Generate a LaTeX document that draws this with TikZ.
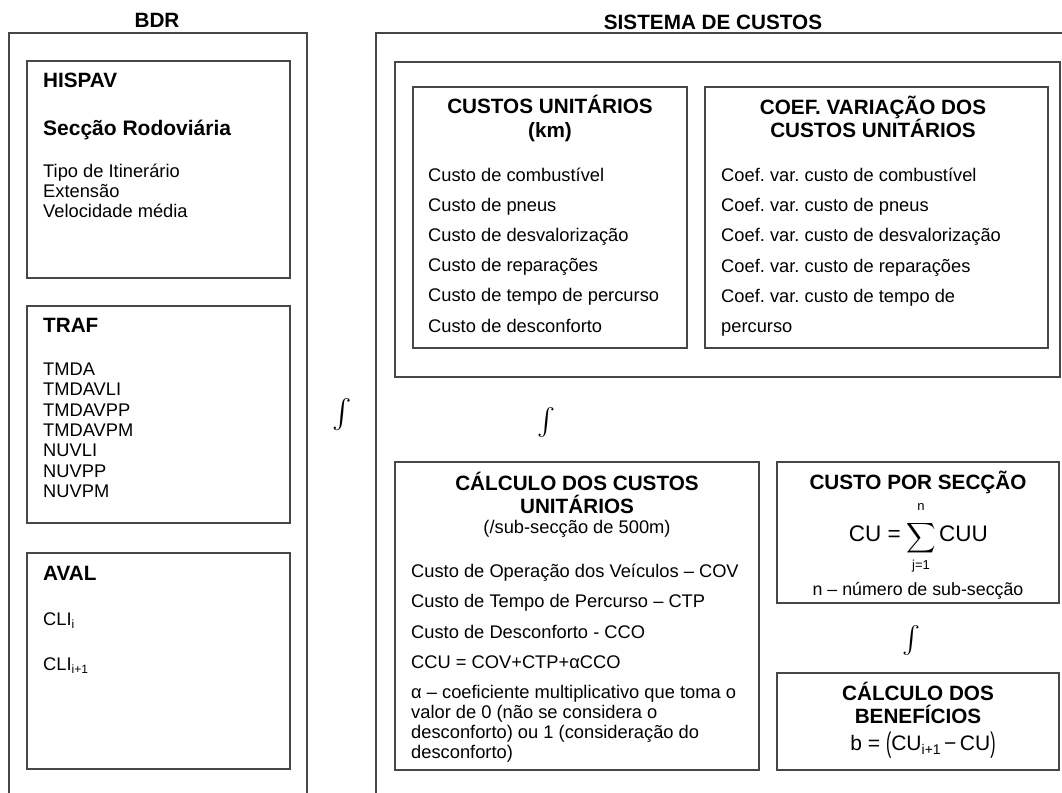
\documentclass[tikz,border=0pt]{standalone}
\usepackage{fontspec}
\setmainfont{Liberation Sans}
\usepackage{graphicx}
\frenchspacing
\tikzset{
 box/.style={draw=black!72, line width=1.3pt, anchor=north west, inner sep=0pt, outer sep=0pt},
 body/.style={inner sep=0pt, anchor=base west, font=\fontsize{18.3}{20}\selectfont},
 cbody/.style={body, anchor=base},
 head/.style={inner sep=0pt, anchor=base west, font=\bfseries\fontsize{20.7}{23}\selectfont},
 chead/.style={head, anchor=base},
 flow/.style={inner sep=0pt},
}
\begin{document}
\begin{tikzpicture}[x=1pt,y=-1pt]
\useasboundingbox (0,0) rectangle (1062,792);
\fill[white] (0,0) rectangle (1062,792);
\clip (0,0) rectangle (1062,792);

% outer frames (open at the bottom / right)
\node[box, minimum width=298pt, minimum height=800pt] (bdr) at (9,33) {};
\node[box, minimum width=720pt, minimum height=800pt] (sys) at (376,33) {};
\node[chead] (tbdr) at (157,27.5) {BDR};
\node[chead] (tsys) at (713,29.5) {SISTEMA DE CUSTOS};

% ---- BDR side
\node[box, minimum width=263pt, minimum height=217pt] (hispav) at (27,61) {};
\node[head] (hispavt) at (43,87.5) {HISPAV};
\node[head, font=\bfseries\fontsize{21}{23}\selectfont] (seccao) at (43,135) {Secção Rodoviária};
\foreach \t [count=\i] in {{Tipo de Itinerário},{Extensão},{Velocidade média}}
  \node[body] (hisp\i) at (43,{177.5+20*(\i-1)}) {\t};

\node[box, minimum width=263pt, minimum height=217pt] (traf) at (27,306) {};
\node[head] (traft) at (43,332.5) {TRAF};
\foreach \t [count=\i] in {TMDA,TMDAVLI,TMDAVPP,TMDAVPM,NUVLI,NUVPP,NUVPM}
  \node[body] (traf\i) at (43,{375.5+20.33*(\i-1)}) {\t};

\node[box, minimum width=263pt, minimum height=216pt] (aval) at (27,553) {};
\node[head] (avalt) at (43,580.5) {AVAL};
\node[body] (cli1) at (43,625.5) {CLI{\fontsize{12}{12}\selectfont\raisebox{-3pt}{i}}};
\node[body] (cli2) at (43,670.5) {CLI{\fontsize{12}{12}\selectfont\raisebox{-3pt}{i+1}}};

\node[flow] (f1) at (342,415) {\scalebox{2.9}{$\int$}};

% ---- SISTEMA DE CUSTOS side
\node[box, minimum width=665pt, minimum height=315pt] (top) at (395,62) {};

\node[box, minimum width=274pt, minimum height=261pt] (cu) at (413,87) {};
\node[chead] (cut1) at (550,113.5) {CUSTOS UNITÁRIOS};
\node[chead] (cut2) at (550,137.5) {(km)};
\foreach \t [count=\i] in {{Custo de combustível},{Custo de pneus},{Custo de desvalorização},{Custo de reparações},{Custo de tempo de percurso},{Custo de desconforto}}
  \node[body] (cu\i) at (428,{181+30.2*(\i-1)}) {\t};

\node[box, minimum width=343pt, minimum height=261pt] (coef) at (705,87) {};
\node[chead] (coeft1) at (873,114.5) {COEF. VARIAÇÃO DOS};
\node[chead] (coeft2) at (873,137.5) {CUSTOS UNITÁRIOS};
\foreach \t [count=\i] in {{Coef. var. custo de combustível},{Coef. var. custo de pneus},{Coef. var. custo de desvalorização},{Coef. var. custo de reparações},{Coef. var. custo de tempo de},{percurso}}
  \node[body] (coef\i) at (721,{181.5+30.2*(\i-1)}) {\t};

\node[flow] (f2) at (546,422) {\scalebox{2.7}{$\int$}};

\node[box, minimum width=364pt, minimum height=308pt] (calc) at (395,462) {};
\node[chead] (calct1) at (577,490.5) {CÁLCULO DOS CUSTOS};
\node[chead] (calct2) at (577,513.5) {UNITÁRIOS};
\node[cbody] (calct3) at (577,533.5) {(/sub-secção de 500m)};
\foreach \t [count=\i] in {{Custo de Operação dos Veículos – COV},{Custo de Tempo de Percurso – CTP},{Custo de Desconforto - CCO},{CCU = COV+CTP+αCCO}}
  \node[body] (calc\i) at (411,{577.5+30.3*(\i-1)}) {\t};
\foreach \t [count=\i] in {{α – coeficiente multiplicativo que toma o},{valor de 0 (não se considera o},{desconforto) ou 1 (consideração do},{desconforto)}}
  \node[body] (alpha\i) at (411,{698.5+20*(\i-1)}) {\t};

\node[box, minimum width=282pt, minimum height=141pt] (cps) at (777,462) {};
\node[chead] (cpst) at (918,489.5) {CUSTO POR SECÇÃO};
\node[inner sep=0pt, anchor=base east, font=\fontsize{22.5}{24}\selectfont] (cueq) at (901,541) {CU =};
\node[inner sep=0pt] (sigma) at (921,538) {\scalebox{2.05}[2.1]{$\displaystyle\sum$}};
\node[inner sep=0pt, anchor=base west, font=\fontsize{22.5}{24}\selectfont] (cuu) at (939,541) {CUU};
\node[inner sep=0pt, anchor=base, font=\fontsize{13}{14}\selectfont] (nn) at (921,510) {n};
\node[inner sep=0pt, anchor=base, font=\fontsize{13}{14}\selectfont] (jj) at (921,569.5) {j=1};
\node[cbody, font=\fontsize{17.8}{20}\selectfont] (cpsn) at (918,595.5) {n – número de sub-secção};

\node[flow] (f3) at (911,640) {\scalebox{2.7}{$\int$}};

\node[box, minimum width=282pt, minimum height=97pt] (ben) at (777,673) {};
\node[chead] (bent1) at (918,700.5) {CÁLCULO DOS};
\node[chead] (bent2) at (918,723.5) {BENEFÍCIOS};
\node[inner sep=0pt, anchor=base, font=\fontsize{21}{22}\selectfont] (beq) at (923,750)
  {b = \raisebox{-2.5pt}{\scalebox{0.75}[1.35]{(}}CU{\fontsize{14}{14}\selectfont\raisebox{-4pt}{i+1}}\,−\,CU\raisebox{-2.5pt}{\scalebox{0.75}[1.35]{)}}};
\end{tikzpicture}
\end{document}
